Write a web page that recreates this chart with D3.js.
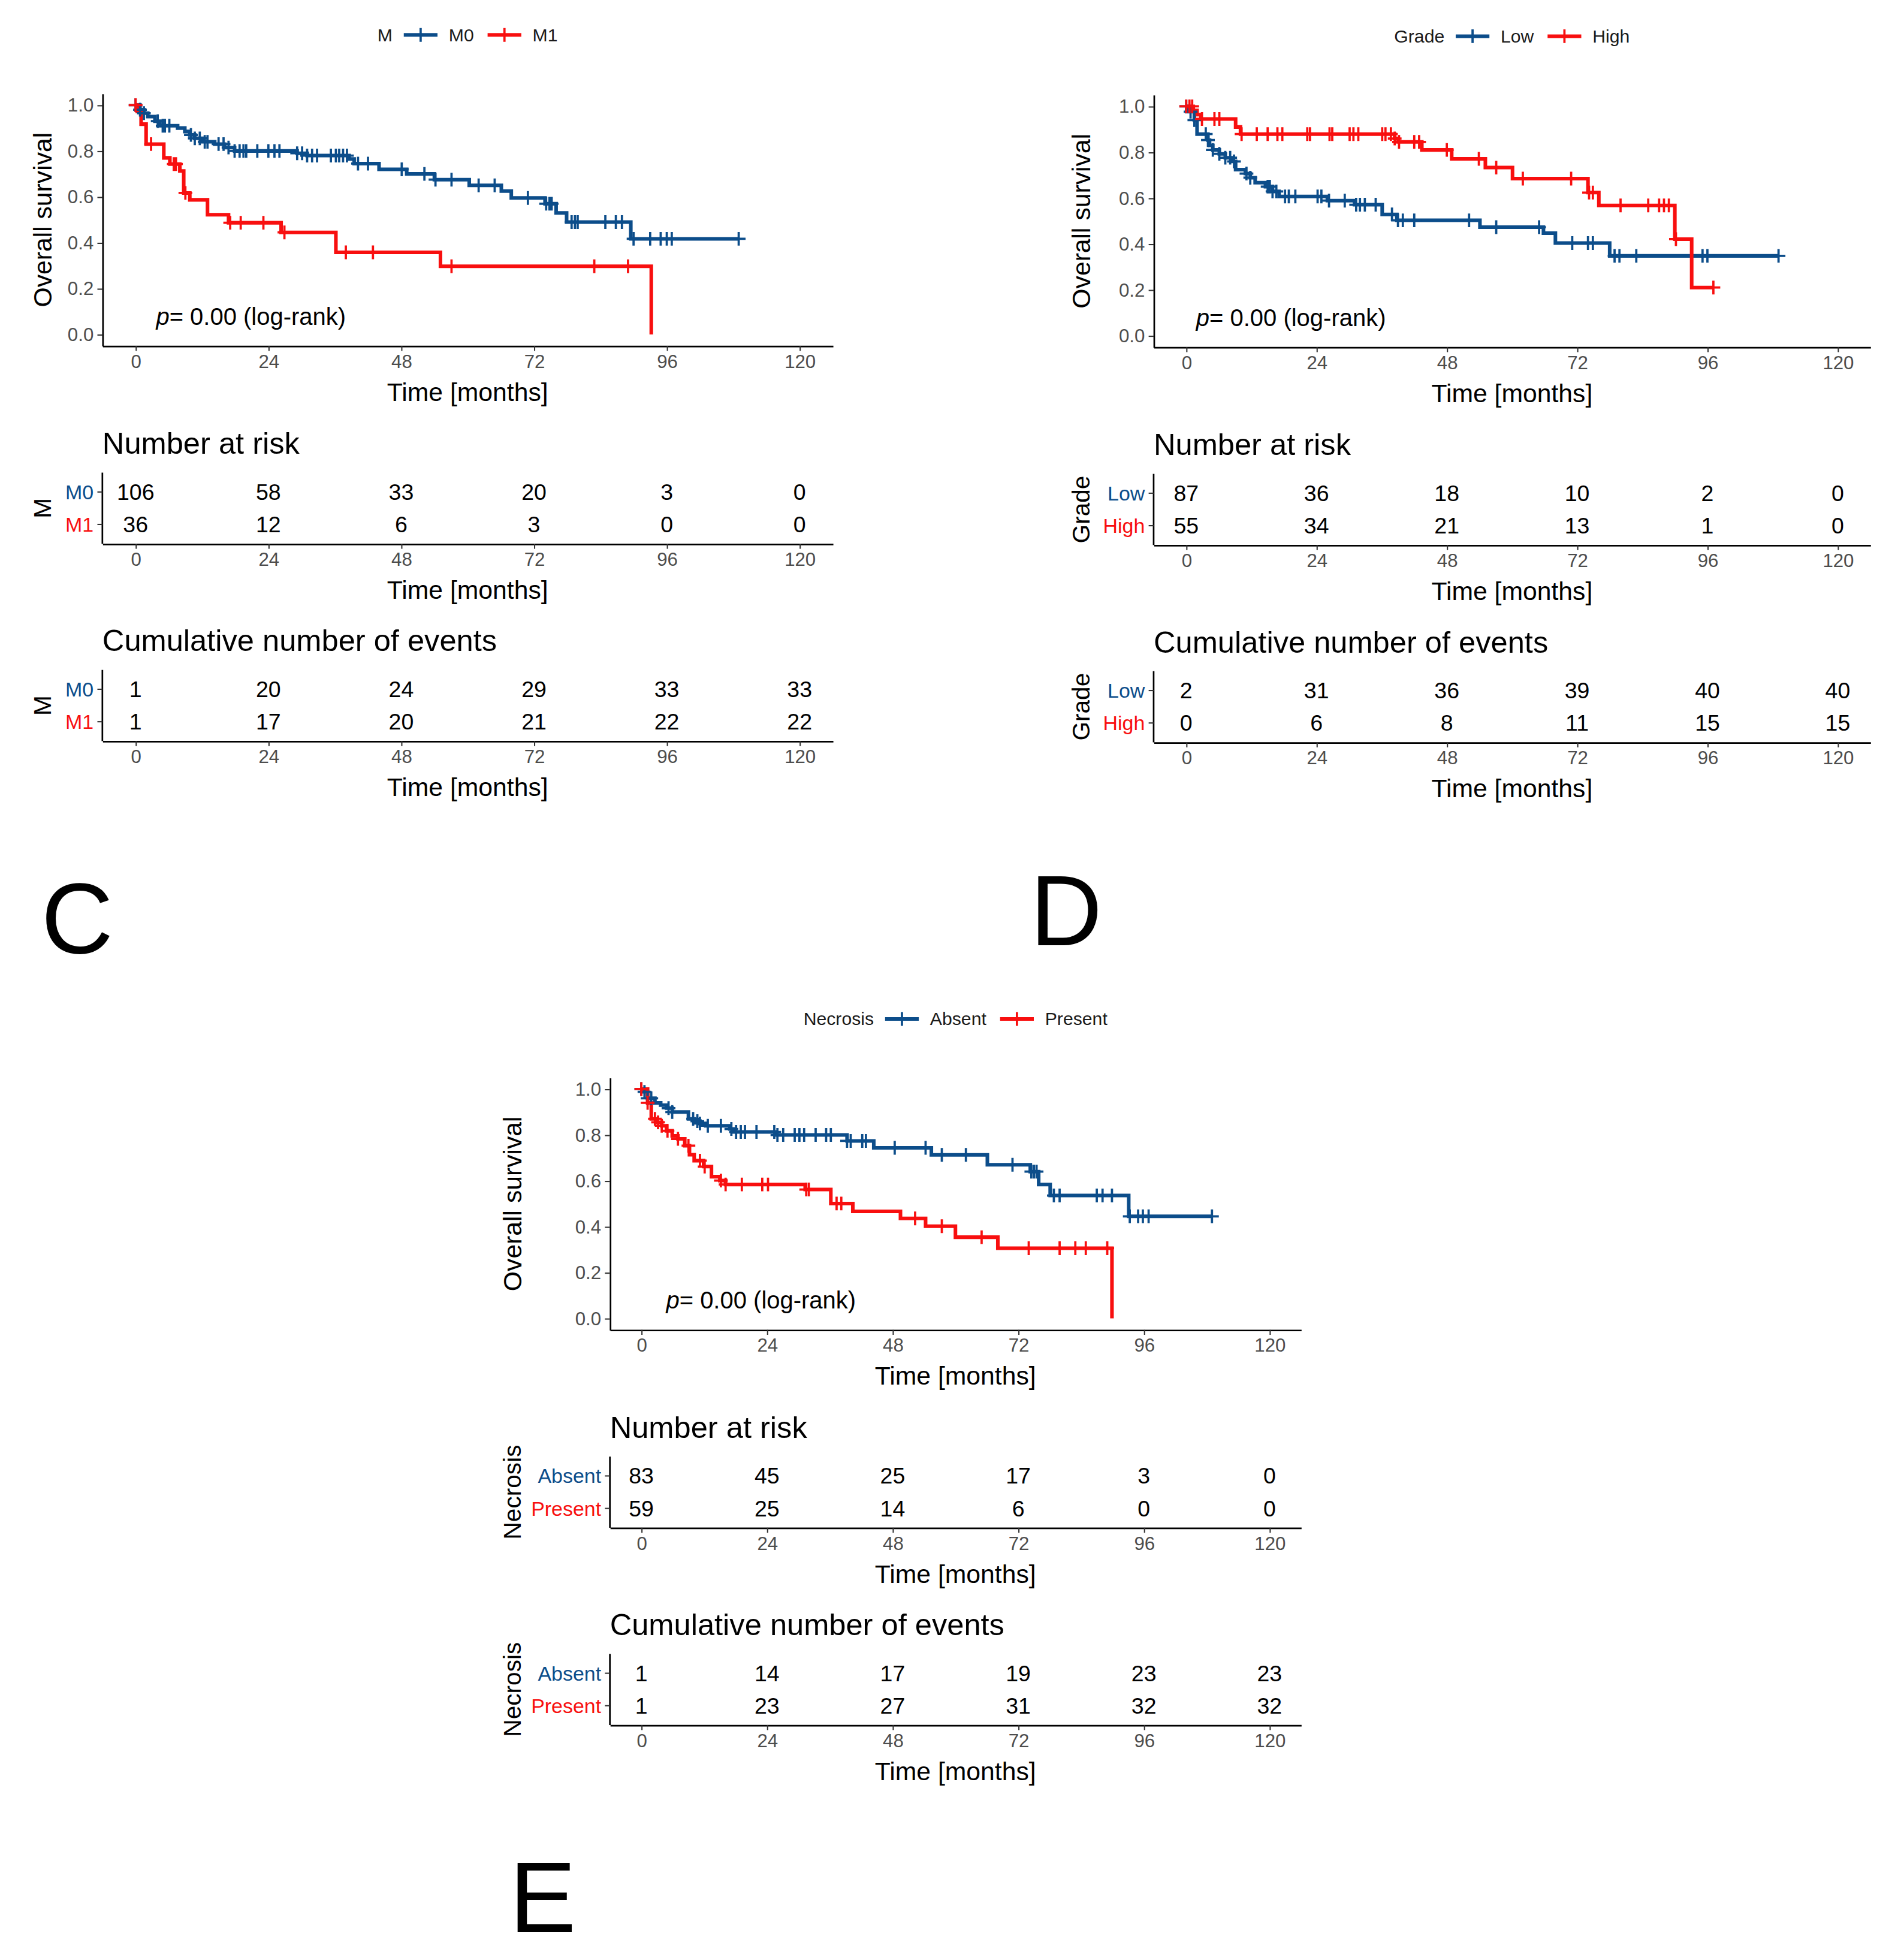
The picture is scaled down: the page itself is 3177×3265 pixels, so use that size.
<!DOCTYPE html>
<html>
<head>
<meta charset="utf-8">
<script src="https://cdn.jsdelivr.net/npm/d3@7"></script>
<style>
  body { margin: 0; background: #fff; }
  text { font-family: "Liberation Sans", Arial, sans-serif; }
</style>
</head>
<body>
<svg id="fig"></svg>
<script>
// ---- shared ticks ----
const timeTicks = [0, 24, 48, 72, 96, 120];
const survTicks = [0, 0.2, 0.4, 0.6, 0.8, 1.0];

// ---- panel C : M ----
const cGroups = ["M0", "M1"];
const cM0Time = [0, 0.8, 1.5, 2.2, 3.5, 4.4, 7.6, 8.9, 9.8, 10.7, 12, 14.3, 16.1, 17.9, 29.2, 31, 38.6, 39.5, 44, 49, 54, 60.3, 66.1, 67.9, 74, 76, 77.9, 89.5];
const cM0Surv = [1, 0.98, 0.965, 0.95, 0.93, 0.91, 0.90, 0.885, 0.87, 0.855, 0.84, 0.83, 0.815, 0.80, 0.79, 0.78, 0.765, 0.745, 0.72, 0.70, 0.675, 0.65, 0.625, 0.595, 0.57, 0.53, 0.49, 0.417];
const cM0Censor = [0, 0.8, 1.5, 4, 4.9, 5.3, 6.1, 10, 10.7, 11.6, 12.5, 13, 15, 15.9, 16.8, 17.9, 18.8, 19.5, 20, 22, 24, 25.1, 26, 29.2, 30.1, 31, 31.9, 32.8, 35.3, 36.2, 36.8, 37.5, 38.2, 40.2, 42, 48.1, 52.2, 54.2, 57.1, 62, 64.9, 70.9, 74.2, 74.8, 75.2, 78.8, 79.4, 79.9, 84.9, 86.8, 87.9, 90, 93, 94.9, 96, 96.9, 109];
const cM1Time = [0, 0.3, 1.0, 1.9, 5.1, 6.2, 8.0, 8.7, 9.8, 13, 16.8, 26.3, 36.2, 55.1, 93.2];
const cM1Surv = [1, 0.972, 0.917, 0.83, 0.77, 0.743, 0.713, 0.617, 0.587, 0.522, 0.487, 0.445, 0.358, 0.297, 0];
const cM1Censor = [0, 2.8, 6.9, 7.3, 9.0, 17.1, 19, 23.1, 26.9, 38, 42.9, 57.1, 82.9, 89];
const cM0Risk = [106, 58, 33, 20, 3, 0];
const cM1Risk = [36, 12, 6, 3, 0, 0];
const cM0Events = [1, 20, 24, 29, 33, 33];
const cM1Events = [1, 17, 20, 21, 22, 22];

// ---- panel D : Grade ----
const dGroups = ["Low", "High"];
const dLowTime = [0, 0.1, 1.5, 2.0, 4.0, 4.3, 4.9, 6.1, 7.2, 8.4, 9.1, 10.9, 11.8, 12.7, 14.6, 15.9, 17.1, 26, 31, 36.1, 38.8, 54.1, 65.8, 68, 78];
const dLowSurv = [1, 0.977, 0.94, 0.879, 0.853, 0.83, 0.81, 0.793, 0.776, 0.76, 0.724, 0.707, 0.689, 0.667, 0.65, 0.629, 0.607, 0.589, 0.571, 0.529, 0.503, 0.473, 0.447, 0.404, 0.348];
const dLowCensor = [0, 0.8, 1.5, 3.6, 4.0, 4.9, 6.1, 7.2, 8.1, 8.8, 11.1, 11.8, 15.0, 15.4, 15.9, 16.6, 18.2, 18.9, 20.1, 24.2, 24.9, 26.3, 29.2, 31.3, 32, 32.9, 34.9, 37.9, 39, 39.9, 42, 52.1, 57.1, 65, 71.1, 74, 74.9, 78.9, 79.8, 82.9, 95.1, 96, 109.1];
const dHighTime = [0, 1.3, 2.0, 2.7, 9.1, 10, 38.4, 39, 43.4, 48.9, 55.1, 60.1, 74, 76, 90, 93.1];
const dHighSurv = [1, 0.982, 0.964, 0.945, 0.91, 0.879, 0.86, 0.845, 0.81, 0.771, 0.733, 0.685, 0.624, 0.568, 0.421, 0.21];
const dHighCensor = [0, 0.6, 1.1, 2.9, 5.2, 6.1, 10.2, 13.0, 15.0, 16.8, 17.7, 22.3, 22.8, 26.4, 26.9, 30.1, 30.8, 31.7, 36.1, 36.7, 37.7, 38.4, 39.2, 42.0, 42.9, 48, 53.9, 57.1, 62, 70.9, 74.2, 74.9, 80, 85.1, 87.1, 88, 88.9, 90.2, 97.1];
const dLowRisk = [87, 36, 18, 10, 2, 0];
const dHighRisk = [55, 34, 21, 13, 1, 0];
const dLowEvents = [2, 31, 36, 39, 40, 40];
const dHighEvents = [0, 6, 8, 11, 15, 15];

// ---- panel E : Necrosis ----
const eGroups = ["Absent", "Present"];
const eAbsTime = [0, 0.3, 1.2, 2.6, 3.7, 4.8, 5.9, 9.0, 10.1, 11.2, 12.3, 16.9, 17.6, 25.6, 39.3, 44.4, 55.4, 66.1, 74.3, 75.9, 78.1, 93.1];
const eAbsSurv = [1, 0.988, 0.96, 0.94, 0.93, 0.917, 0.9, 0.87, 0.86, 0.85, 0.84, 0.826, 0.813, 0.8, 0.774, 0.744, 0.713, 0.67, 0.64, 0.584, 0.536, 0.445];
const eAbsCensor = [0, 0.6, 1.2, 1.9, 5.2, 5.9, 9.9, 10.7, 11.2, 12.7, 15.2, 17.2, 18.1, 19, 19.8, 22, 25.4, 26, 27.1, 29.3, 30.2, 31.1, 33.3, 35.3, 36.2, 39.3, 40, 42.2, 42.9, 48.4, 54.3, 57.4, 62, 70.9, 74.5, 75.0, 75.5, 78.8, 79.9, 87, 88.1, 89.9, 93.3, 94.9, 95.8, 96.9, 109];
const ePresTime = [0, 1.2, 1.9, 2.8, 3.9, 4.8, 5.9, 7.0, 8.3, 9.2, 10.1, 11.9, 13.4, 15, 16.1, 31.3, 36.2, 40.4, 49.5, 54.3, 60, 68.1, 89.9];
const ePresSurv = [1, 0.94, 0.87, 0.855, 0.84, 0.818, 0.796, 0.783, 0.753, 0.714, 0.688, 0.662, 0.618, 0.601, 0.584, 0.562, 0.501, 0.467, 0.436, 0.402, 0.354, 0.306, 0];
const ePresCensor = [0, 1.2, 2.6, 3.2, 3.9, 5, 7, 9, 11.2, 12.1, 15.2, 16.1, 19.2, 23.1, 24.2, 31.5, 32, 37.3, 38.2, 52.3, 57.4, 65, 74, 79.9, 82.9, 84.9, 89];
const eAbsRisk = [83, 45, 25, 17, 3, 0];
const ePresRisk = [59, 25, 14, 6, 0, 0];
const eAbsEvents = [1, 14, 17, 19, 23, 23];
const ePresEvents = [1, 23, 27, 31, 32, 32];

// ---- drawing ----
const BLUE = "#0C4D8A", RED = "#F80F0F";
const FONT = "'Liberation Sans', Arial, sans-serif";
const VW = 1525, VH = VW * 3265 / 3177;   // work in a ~1525-wide coordinate frame

const svg = d3.select("#fig")
    .attr("width", 3177).attr("height", 3265)
    .attr("viewBox", `0 0 ${VW} ${VH}`);
svg.append("rect").attr("width", VW).attr("height", VH).attr("fill", "#fff");

const panels = [
  { legendTitle: "M", groups: cGroups, colors: [BLUE, RED],
    series: [[cM0Time, cM0Surv, cM0Censor], [cM1Time, cM1Surv, cM1Censor]],
    risk: [cM0Risk, cM1Risk], events: [cM0Events, cM1Events],
    left: 82, right: 667, top: 75, titleDx: 48, pDx: 43, letter: "C", letterX: 33, letterY: 763 },
  { legendTitle: "Grade", groups: dGroups, colors: [BLUE, RED],
    series: [[dLowTime, dLowSurv, dLowCensor], [dHighTime, dHighSurv, dHighCensor]],
    risk: [dLowRisk, dHighRisk], events: [dLowEvents, dHighEvents],
    left: 924, right: 1498, top: 76, titleDx: 58, pDx: 34, letter: "D", letterX: 825, letterY: 757 },
  { legendTitle: "Necrosis", groups: eGroups, colors: [BLUE, RED],
    series: [[eAbsTime, eAbsSurv, eAbsCensor], [ePresTime, ePresSurv, ePresCensor]],
    risk: [eAbsRisk, ePresRisk], events: [eAbsEvents, ePresEvents],
    left: 488.5, right: 1042, top: 863, titleDx: 78, pDx: 45, letter: "E", letterX: 408, letterY: 1547 }
];

function stepValue(times, surv, t) {
  const i = d3.bisectRight(times, t) - 1;
  return surv[Math.max(i, 0)];
}

function styleAxis(sel) {
  sel.select(".domain").attr("stroke", "#000").attr("stroke-width", 1.3);
  sel.selectAll(".tick line").attr("stroke", "#333").attr("stroke-width", 1);
  sel.selectAll(".tick text").attr("fill", "#4d4d4d").attr("font-size", 15).attr("font-family", FONT);
}

function plusPath(cx, cy, h) {
  return `M${cx - h},${cy}H${cx + h}M${cx},${cy - h}V${cy + h}`;
}

function drawTable(g, p, x, tb, title, values) {
  g.append("text").attr("x", p.left).attr("y", tb)
    .attr("font-size", 24.3).attr("fill", "#000").text(title);
  const yRow = d3.scalePoint().domain(p.groups).range([tb + 30.5, tb + 56.5]);
  const bottom = tb + 72;

  // left axis
  g.append("line").attr("x1", p.left).attr("x2", p.left)
    .attr("y1", tb + 15).attr("y2", bottom).attr("stroke", "#000").attr("stroke-width", 1.3);
  p.groups.forEach((grp, gi) => {
    g.append("line").attr("x1", p.left - 4).attr("x2", p.left)
      .attr("y1", yRow(grp)).attr("y2", yRow(grp)).attr("stroke", "#333");
    g.append("text").attr("x", p.left - 7).attr("y", yRow(grp))
      .attr("text-anchor", "end").attr("dominant-baseline", "central")
      .attr("font-size", 16.3).attr("fill", p.colors[gi]).text(grp);
    g.selectAll(null).data(values[gi]).enter().append("text")
      .attr("x", (d, i) => x(timeTicks[i])).attr("y", yRow(grp))
      .attr("text-anchor", "middle").attr("dominant-baseline", "central")
      .attr("font-size", 18).attr("fill", "#000").text(d => d);
  });
  g.append("text")
    .attr("transform", `translate(${p.left - p.titleDx},${(yRow(p.groups[0]) + yRow(p.groups[1])) / 2}) rotate(-90)`)
    .attr("text-anchor", "middle").attr("dominant-baseline", "central")
    .attr("font-size", 19.5).attr("fill", "#000").text(p.legendTitle);

  const xAx = g.append("g").attr("transform", `translate(0,${bottom})`)
    .call(d3.axisBottom(x).tickValues(timeTicks).tickSize(4).tickSizeOuter(0).tickPadding(3));
  styleAxis(xAx);
  g.append("text").attr("x", (p.left + p.right) / 2).attr("y", bottom + 44)
    .attr("text-anchor", "middle").attr("font-size", 20.5).attr("fill", "#000").text("Time [months]");
}

function drawPanel(p) {
  const g = svg.append("g");
  const x = d3.scaleLinear().domain([-6, 126]).range([p.left, p.right]);
  const plotBottom = p.top + 202;
  const y = d3.scaleLinear().domain([-0.05, 1.05]).range([plotBottom, p.top]);

  // axes
  const yAx = g.append("g").attr("transform", `translate(${p.left},0)`)
    .call(d3.axisLeft(y).tickValues(survTicks).tickFormat(d3.format(".1f"))
      .tickSize(4).tickSizeOuter(0).tickPadding(3));
  const xAx = g.append("g").attr("transform", `translate(0,${plotBottom})`)
    .call(d3.axisBottom(x).tickValues(timeTicks).tickSize(4).tickSizeOuter(0).tickPadding(3));
  styleAxis(yAx); styleAxis(xAx);

  g.append("text")
    .attr("transform", `translate(${p.left - p.titleDx},${(p.top + plotBottom) / 2}) rotate(-90)`)
    .attr("text-anchor", "middle").attr("dominant-baseline", "central")
    .attr("font-size", 20.5).attr("fill", "#000").text("Overall survival");
  g.append("text").attr("x", (p.left + p.right) / 2).attr("y", plotBottom + 44)
    .attr("text-anchor", "middle").attr("font-size", 20.5).attr("fill", "#000").text("Time [months]");

  // survival curves
  const line = d3.line().x(d => x(d[0])).y(d => y(d[1])).curve(d3.curveStepAfter);
  p.series.forEach((s, i) => {
    const [times, surv, cens] = s;
    const end = d3.max(times.concat(cens));
    const pts = times.map((t, k) => [t, surv[k]]);
    pts.push([end, surv[surv.length - 1]]);
    g.append("path").attr("d", line(pts)).attr("fill", "none")
      .attr("stroke", p.colors[i]).attr("stroke-width", 2.9).attr("stroke-linejoin", "miter");
  });
  p.series.forEach((s, i) => {
    const [times, surv, cens] = s;
    g.append("path")
      .attr("d", cens.map(t => plusPath(x(t), y(stepValue(times, surv, t)), 5.5)).join(""))
      .attr("fill", "none").attr("stroke", p.colors[i]).attr("stroke-width", 1.8);
  });

  // p-value
  const pt = g.append("text").attr("x", p.left + p.pDx).attr("y", p.top + 185)
    .attr("font-size", 19.2).attr("fill", "#000");
  pt.append("tspan").attr("font-style", "italic").text("p");
  pt.append("tspan").text("= 0.00 (log-rank)");

  // legend
  const lg = g.append("g");
  let cx = 0;
  const lt = lg.append("text").attr("x", cx).attr("y", 0).attr("dominant-baseline", "central")
    .attr("font-size", 14.5).attr("fill", "#1a1a1a").text(p.legendTitle);
  cx += lt.node().getComputedTextLength() + 9;
  p.groups.forEach((grp, i) => {
    lg.append("line").attr("x1", cx).attr("x2", cx + 27).attr("y1", 0).attr("y2", 0)
      .attr("stroke", p.colors[i]).attr("stroke-width", 2.9);
    lg.append("path").attr("d", plusPath(cx + 13.5, 0, 5.5)).attr("stroke", p.colors[i]).attr("stroke-width", 1.8);
    cx += 27 + 9;
    const t = lg.append("text").attr("x", cx).attr("y", 0).attr("dominant-baseline", "central")
      .attr("font-size", 14.5).attr("fill", "#1a1a1a").text(grp);
    cx += t.node().getComputedTextLength() + 11;
  });
  cx -= 11;
  lg.attr("transform", `translate(${(p.left + p.right) / 2 - cx / 2},${p.top - 47})`);

  // tables
  drawTable(g, p, x, p.top + 288.5, "Number at risk", p.risk);
  drawTable(g, p, x, p.top + 446.5, "Cumulative number of events", p.events);

  // panel letter
  g.append("text").attr("x", p.letterX).attr("y", p.letterY)
    .attr("font-size", 80).attr("fill", "#000").text(p.letter);
}

panels.forEach(drawPanel);
</script>
</body>
</html>
